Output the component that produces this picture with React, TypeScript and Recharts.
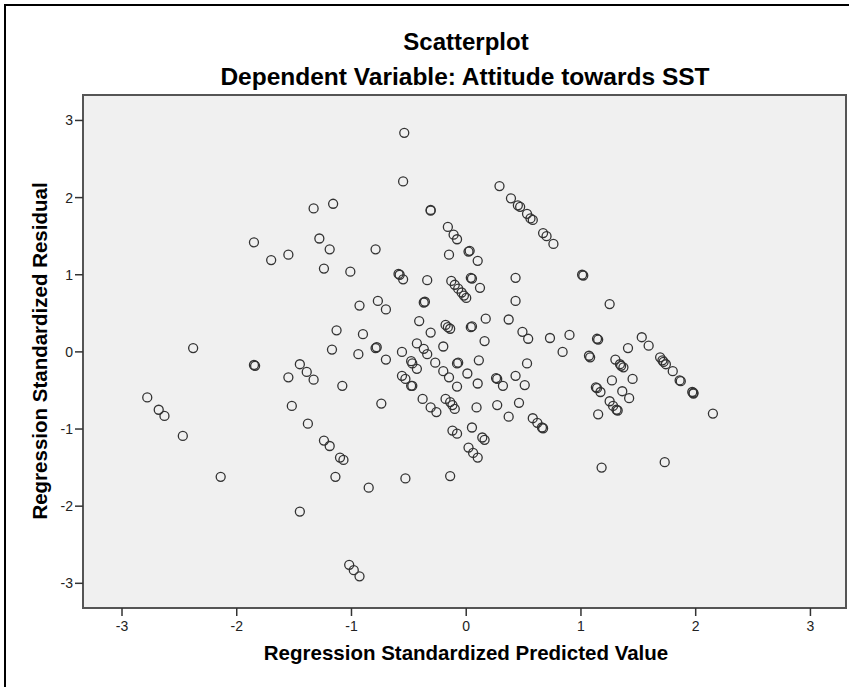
import React from "react";
import { ScatterChart, Scatter, XAxis, YAxis, CartesianGrid, ReferenceArea } from "recharts";

const chartTitle = "Scatterplot";
const chartSubtitle = "Dependent Variable: Attitude towards SST";
const xLabel = "Regression Standardized Predicted Value";
const yLabel = "Regression Standardized Residual";
const xTicks = [-3, -2, -1, 0, 1, 2, 3];
const yTicks = [-3, -2, -1, 0, 1, 2, 3];

const predicted = [
  -2.78, -2.68, -2.63, -2.47, -2.38, -2.14, -1.85, -1.85, -1.84, -1.7,
  -1.55, -1.55, -1.52, -1.45, -1.39, -1.33, -1.38, -1.45, -1.33, -1.28,
  -1.24, -1.24, -1.19, -1.19, -1.16, -1.17, -1.13, -1.14, -1.1, -1.07,
  -1.08, -1.01, -1.02, -0.98, -0.93, -0.94, -0.93, -0.9, -0.85, -0.79,
  -0.79, -0.78, -0.77, -0.74, -0.7, -0.7, -0.59, -0.58, -0.55, -0.54,
  -0.55, -0.56, -0.56, -0.53, -0.53, -0.48, -0.47, -0.48, -0.47, -0.43,
  -0.43, -0.41, -0.37, -0.37, -0.36, -0.34, -0.34, -0.38, -0.31, -0.31,
  -0.31, -0.31, -0.27, -0.26, -0.2, -0.2, -0.18, -0.16, -0.15, -0.15,
  -0.18, -0.14, -0.13, -0.14, -0.11, -0.1, -0.12, -0.08, -0.07, -0.08,
  -0.08, -0.14, -0.12, -0.08, -0.07, -0.04, -0.02, 0.0, -0.1, -0.16,
  0.01, 0.02, 0.03, 0.04, 0.05, 0.04, 0.05, 0.02, 0.05, 0.06,
  0.09, 0.1, 0.1, 0.1, 0.11, 0.12, 0.14, 0.16, 0.16, 0.17,
  0.26, 0.27, 0.27, 0.29, 0.32, 0.37, 0.37, 0.39, 0.43, 0.43,
  0.43, 0.45, 0.47, 0.46, 0.49, 0.51, 0.53, 0.53, 0.54, 0.56,
  0.58, 0.58, 0.62, 0.66, 0.67, 0.67, 0.7, 0.73, 0.76, 0.84,
  0.9, 1.01, 1.02, 1.07, 1.08, 1.13, 1.14, 1.14, 1.15, 1.15,
  1.17, 1.18, 1.25, 1.25, 1.27, 1.28, 1.3, 1.31, 1.32, 1.34,
  1.35, 1.37, 1.36, 1.41, 1.42, 1.45, 1.53, 1.59, 1.69, 1.71,
  1.72, 1.74, 1.73, 1.8, 1.86, 1.87, 1.97, 1.98, 1.98, 2.15,
];

const residual = [
  -0.59, -0.75, -0.83, -1.09, 0.05, -1.62, 1.42, -0.17, -0.18, 1.19,
  1.26, -0.33, -0.7, -0.16, -0.26, -0.36, -0.93, -2.07, 1.86, 1.47,
  1.08, -1.15, -1.22, 1.33, 1.92, 0.03, 0.28, -1.62, -1.37, -1.4,
  -0.44, 1.04, -2.76, -2.83, -2.91, -0.03, 0.6, 0.23, -1.76, 1.33,
  0.05, 0.06, 0.66, -0.67, 0.55, -0.1, 1.01, 1.0, 0.94, 2.84,
  2.21, 0.0, -0.31, -0.35, -1.64, -0.44, -0.44, -0.12, -0.15, -0.22,
  0.11, 0.4, 0.04, 0.64, 0.65, 0.93, -0.03, -0.61, 1.83, 1.84,
  0.25, -0.72, -0.14, -0.78, 0.07, -0.25, 0.35, 1.62, 1.26, -0.33,
  -0.61, 0.3, 0.92, -0.65, 1.52, 0.87, -0.69, 1.46, 0.82, -0.15,
  -0.45, -1.61, -1.02, -1.06, -0.14, 0.77, 0.73, 0.7, -0.74, 0.32,
  -0.28, 1.3, 1.31, 0.96, 0.95, 0.32, 0.33, -1.24, -0.98, -1.31,
  -0.72, 1.18, -0.41, -1.37, -0.11, 0.83, -1.11, -1.14, 0.14, 0.43,
  -0.34, -0.35, -0.69, 2.15, -0.44, 0.42, -0.84, 1.99, 0.96, 0.66,
  -0.31, 1.9, 1.88, -0.66, 0.26, -0.43, -0.15, 1.79, 0.17, 1.73,
  1.71, -0.86, -0.92, -0.98, -0.99, 1.54, 1.5, 0.18, 1.4, 0.0,
  0.22, 1.0, 0.99, -0.05, -0.07, -0.46, -0.47, 0.17, 0.16, -0.81,
  -0.52, -1.5, 0.62, -0.64, -0.37, -0.7, -0.1, -0.75, -0.76, -0.16,
  -0.18, -0.2, -0.51, 0.05, -0.6, -0.35, 0.19, 0.08, -0.07, -0.11,
  -0.13, -0.16, -1.43, -0.25, -0.37, -0.38, -0.52, -0.53, -0.54, -0.8,
];

const points = predicted.map((x, i) => ({ x, y: residual[i] }));

const FONT = "'Liberation Sans', Arial, sans-serif";

const OpenCircle = (props: any) => {
  const { cx, cy } = props;
  if (cx == null || cy == null) return null;
  return <circle cx={cx} cy={cy} r={4.5} fill="none" stroke="#333" strokeWidth={1.3} />;
};

export default function App() {
  return (
    <div
      style={{
        position: "absolute",
        left: 0,
        top: 0,
        width: 849,
        height: 687,
        background: "#fff",
        fontFamily: FONT,
        overflow: "hidden",
      }}
    >
      <div
        style={{
          position: "absolute",
          left: 4,
          top: 4,
          width: 849,
          height: 687,
          borderLeft: "2px solid #000",
          borderTop: "2px solid #000",
        }}
      />
      <div
        style={{
          position: "absolute",
          left: 0,
          width: 932,
          top: 27,
          textAlign: "center",
          fontWeight: "bold",
          fontSize: 24,
          lineHeight: "30px",
          color: "#000",
        }}
      >
        {chartTitle}
      </div>
      <div
        style={{
          position: "absolute",
          left: 0,
          width: 930,
          top: 62,
          textAlign: "center",
          fontWeight: "bold",
          fontSize: 24.5,
          lineHeight: "30px",
          color: "#000",
        }}
      >
        {chartSubtitle}
      </div>
      <div
        style={{
          position: "absolute",
          left: 0,
          width: 932,
          top: 639,
          textAlign: "center",
          fontWeight: "bold",
          fontSize: 20.5,
          lineHeight: "28px",
          color: "#000",
        }}
      >
        {xLabel}
      </div>
      <div
        style={{
          position: "absolute",
          left: 40 - 250,
          width: 500,
          top: 351 - 14,
          textAlign: "center",
          fontWeight: "bold",
          fontSize: 20.5,
          lineHeight: "28px",
          color: "#000",
          transform: "rotate(-90deg)",
        }}
      >
        {yLabel}
      </div>
      <div style={{ position: "absolute", left: 0, top: 0 }}>
        <ScatterChart
          width={849}
          height={687}
          margin={{ top: 95, right: 3, bottom: 0, left: 0 }}
        >
          <CartesianGrid fill="#f0f0f0" horizontal={false} vertical={false} stroke="none" />
          <XAxis
            type="number"
            dataKey="x"
            domain={[-3.34, 3.31]}
            ticks={xTicks}
            allowDataOverflow
            height={79}
            tickSize={8}
            tickMargin={5}
            axisLine={false}
            tickLine={{ stroke: "#333", strokeWidth: 1.5 }}
            tick={{ fill: "#222", fontSize: 14, fontFamily: FONT }}
            interval={0}
          />
          <YAxis
            type="number"
            dataKey="y"
            domain={[-3.32, 3.33]}
            ticks={yTicks}
            allowDataOverflow
            width={83}
            tickSize={8}
            tickMargin={2}
            axisLine={false}
            tickLine={{ stroke: "#333", strokeWidth: 1.5 }}
            tick={{ fill: "#222", fontSize: 14, fontFamily: FONT }}
            interval={0}
          />
          <ReferenceArea
            x1={-3.34}
            x2={3.31}
            y1={-3.32}
            y2={3.33}
            fill="none"
            stroke="#555"
            strokeWidth={2}
          />
          <Scatter data={points} shape={OpenCircle} isAnimationActive={false} />
        </ScatterChart>
      </div>
    </div>
  );
}
